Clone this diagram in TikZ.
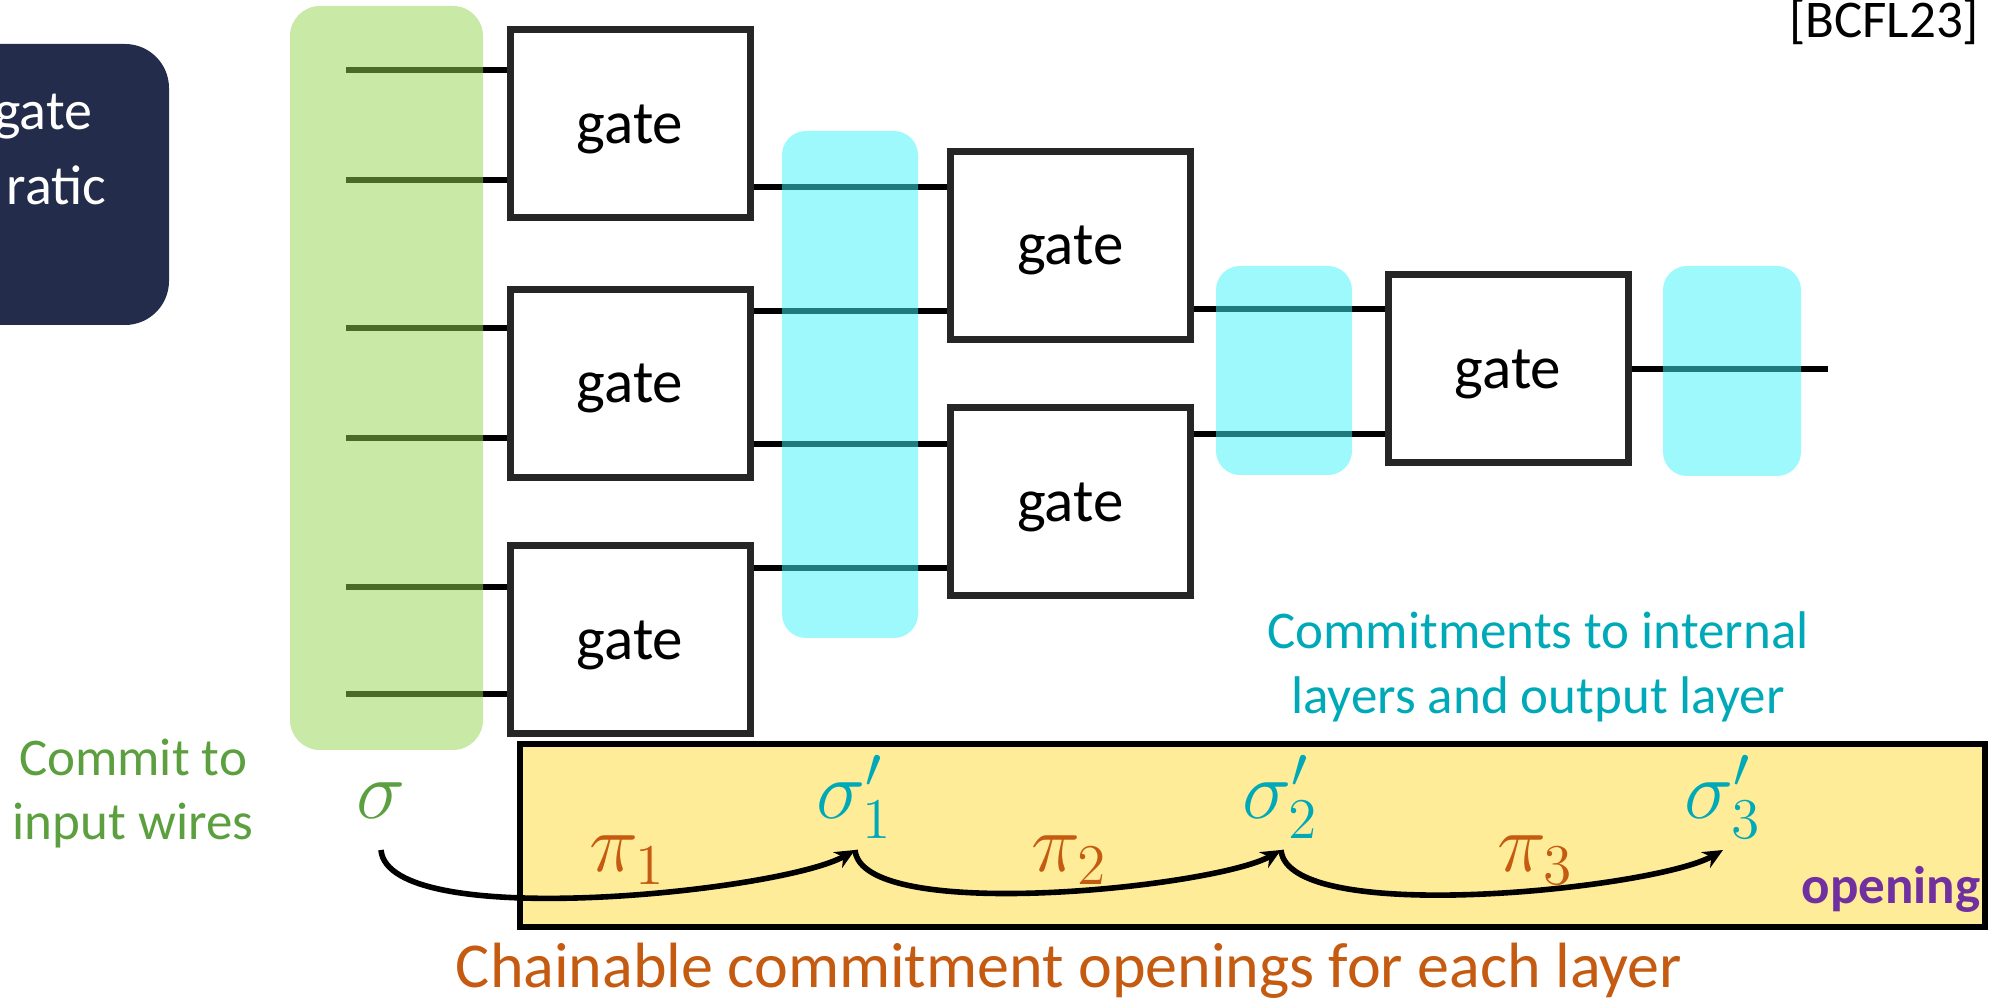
\documentclass[tikz,border=0pt]{standalone}
\usepackage{fontspec}
\setmainfont{Carlito}
\usepackage{xcolor}
\usepackage{tikz}
\usetikzlibrary{arrows.meta,calc,positioning}

\definecolor{navybox}{HTML}{232C4B}
\definecolor{gateline}{HTML}{262626}
\definecolor{inputgreen}{HTML}{94D450}
\definecolor{layercyan}{HTML}{3EF4FC}
\definecolor{commitgreen}{HTML}{5B9F3F}
\definecolor{commitcyan}{HTML}{00A9B8}
\definecolor{openorange}{HTML}{C55A11}
\definecolor{openpurple}{HTML}{7030A0}
\definecolor{openyellow}{HTML}{FFEC99}

\begin{document}
\begin{tikzpicture}[x=0.25pt,y=-0.25pt,>=Latex,
  gate/.style={draw=gateline,line width=1.75pt,fill=white,inner sep=0pt,text depth=0pt,
    minimum width=60pt,minimum height=47pt,font=\fontsize{15.25}{18}\selectfont},
  wire/.style={line width=1.5pt,black},
  inband/.style={fill=inputgreen,fill opacity=0.5,rounded corners=7.5pt},
  layerband/.style={fill=layercyan,fill opacity=0.5,rounded corners=6pt},
  lbl/.style={inner sep=0pt,align=center,font=\fontsize{13.25}{16.25}\selectfont},
  sig/.style={inner sep=0pt,anchor=base,font=\fontsize{22}{26}\selectfont},
  chain/.style={-{Stealth[length=5pt,width=4.5pt]},line width=1.4pt}]
  \clip (0,0) rectangle (1993,1004);
  \fill[navybox,rounded corners=11pt] (-80,44) rectangle (169,325);
  \node[anchor=base east,inner sep=0pt,text=white,font=\fontsize{14}{17}\selectfont] (q1) at (93,130) {gate};
  \node[anchor=base east,inner sep=0pt,text=white,font=\fontsize{14}{17}\selectfont] (q2) at (107,205) {ratic};
  \node[anchor=base east,inner sep=0pt,font=\fontsize{13.25}{15.75}\selectfont] (ref) at (1980,38) {[BCFL23]};

  \node[gate] (g1) at (630,124) {gate};
  \node[gate] (g2) at (630,383.5) {gate};
  \node[gate] (g3) at (630,640) {gate};
  \node[gate] (g4) at (1070.5,245.5) {gate};
  \node[gate] (g5) at (1070.5,502) {gate};
  \node[gate] (g6) at (1508,369) {gate};

  \foreach \g/\y [count=\i] in {g1/70,g1/180,g2/328,g2/438,g3/587,g3/694} {
    \coordinate (in\i) at (346,\y);
    \draw[wire] (in\i) -- (\g.west |- in\i);
  }
  \foreach \a/\b/\y in {g1/g4/187,g2/g4/311,g2/g5/444,g3/g5/568,g4/g6/309,g5/g6/434}
    \draw[wire] (\a.east |- 0,\y) -- (\b.west |- 0,\y);
  \coordinate (out) at (1828,369);
  \draw[wire] (g6.east) -- (out);

  \fill[inband] (290,6) rectangle (483,750);
  \fill[layerband] (782,131) rectangle (918,638);
  \fill[layerband] (1216,266) rectangle (1352,475);
  \fill[layerband] (1663,266) rectangle (1801,476);

  \node[draw=black,line width=1.5pt,fill=openyellow,minimum width=366.25pt,minimum height=45.75pt] (ob) at (1252.5,835.5) {};
  \node[anchor=base east,inner sep=0pt,text=openpurple,font=\fontsize{13.25}{15.75}\selectfont\bfseries] (opn) at ([shift={(-7,-27)}]ob.south east) {opening};

  \node[lbl,text=commitgreen,anchor=base] (lin) at (133,840) {Commit to\\input wires};
  \node[lbl,text=commitcyan,anchor=base] (llay) at (1538,714) {Commitments to internal\\layers and output layer};
  \node[lbl,text=openorange,anchor=base,font=\fontsize{16}{19}\selectfont] (lchain) at (1069,987) {Chainable commitment openings for each layer};

  \node[sig,text=commitgreen] (s0) at (381,818) {$\sigma$};
  \node[sig,text=commitcyan] (s1) at (855,818) {$\sigma'_1$};
  \node[sig,text=commitcyan] (s2) at (1281,818) {$\sigma'_2$};
  \node[sig,text=commitcyan] (s3) at (1723,818) {$\sigma'_3$};
  \node[sig,text=openorange] (p1) at (628,872) {$\pi_1$};
  \node[sig,text=openorange] (p2) at (1070,872) {$\pi_2$};
  \node[sig,text=openorange] (p3) at (1536,872) {$\pi_3$};

  \draw[chain] ([yshift=-8pt]s0.base) to[out=-85,in=-150,looseness=0.45] ([yshift=-8pt]s1.base);
  \draw[chain] ([yshift=-8pt]s1.base) to[out=-85,in=-150,looseness=0.45] ([yshift=-8pt]s2.base);
  \draw[chain] ([yshift=-8pt]s2.base) to[out=-85,in=-150,looseness=0.45] ([yshift=-8pt]s3.base);
\end{tikzpicture}
\end{document}
